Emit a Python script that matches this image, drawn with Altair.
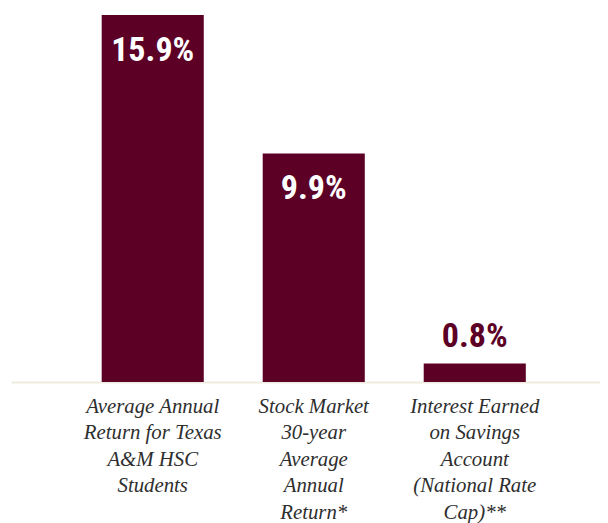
import altair as alt
import pandas as pd

categories = [
    "Average Annual|Return for Texas|A&M HSC|Students",
    "Stock Market|30-year|Average|Annual|Return*",
    "Interest Earned|on Savings|Account|(National Rate|Cap)**",
]
values = [15.9, 9.9, 0.8]
labels = ["15.9%", "9.9%", "0.8%"]

df = pd.DataFrame({"cat": categories, "value": values, "label": labels})

MAROON = "#5c0025"
VALUE_FONT = "'Roboto Condensed', 'Liberation Sans Narrow', 'DejaVu Sans Condensed', Roboto, sans-serif"

x = alt.X(
    "cat:N",
    sort=categories,
    title=None,
    scale=alt.Scale(paddingInner=0.366, paddingOuter=0.512, align=0.55),
    axis=alt.Axis(
        labelAngle=0,
        labelExpr="split(datum.label, '|')",
        labelFont="Liberation Serif",
        labelFontStyle="italic",
        labelFontSize=20.8,
        labelLineHeight=26.5,
        labelColor="#2e2e2e",
        labelBaseline="alphabetic",
        labelPadding=30,
        ticks=False,
        tickSize=0,
        grid=False,
        domainColor="#efebe0",
        domainWidth=2,
        labelLimit=300,
    ),
)
y = alt.Y("value:Q", scale=alt.Scale(domain=[0, 15.9]), axis=None)

base = alt.Chart(df)

bars = base.mark_bar(color=MAROON).encode(x=x, y=y)

inside = base.transform_filter("datum.value > 2").mark_text(
    font=VALUE_FONT,
    fontWeight="bold",
    fontSize=34,
    color="white",
    baseline="middle",
    dy=36,
).encode(x=x, y=y, text="label:N")

above = base.transform_filter("datum.value <= 2").mark_text(
    font=VALUE_FONT,
    fontWeight="bold",
    fontSize=34,
    color=MAROON,
    baseline="middle",
    dy=-27,
).encode(x=x, y=y, text="label:N")

chart = (
    alt.layer(bars, inside, above)
    .properties(
        width=589,
        height=367,
        background="white",
        autosize=alt.AutoSizeParams(type="none"),
        padding={"left": 3, "top": 7, "right": 0, "bottom": 141},
    )
    .configure_view(strokeWidth=0)
)

chart.save("out.html", embed_options={"renderer": "svg", "actions": False})
